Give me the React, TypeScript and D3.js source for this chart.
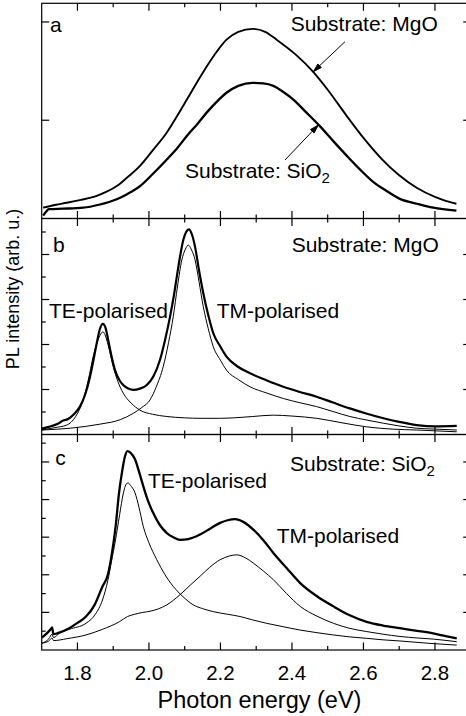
import React from 'react';
import * as d3 from 'd3';

const W = 466;
const H = 716;
const FONT = '"Liberation Sans", Arial, Helvetica, sans-serif';

// x axis
const xDomain: [number, number] = [1.7, 2.9];
const xMajorTicks = [1.8, 2.0, 2.2, 2.4, 2.6, 2.8];
const xMinorTicks = [1.9, 2.1, 2.3, 2.5, 2.7];
const xTickLabels = ['1.8', '2.0', '2.2', '2.4', '2.6', '2.8'];

// Panel a (PL, two substrates)
const aMgO: [number, number][] = [
  [1.704, 0.11], [1.74, 0.14], [1.77, 0.16], [1.81, 0.19], [1.854, 0.23], [1.88, 0.27], [1.91, 0.33],
  [1.94, 0.42], [1.975, 0.535], [2.01, 0.69], [2.05, 0.875], [2.08, 1.05], [2.106, 1.21], [2.135, 1.39],
  [2.162, 1.55], [2.19, 1.7], [2.217, 1.82], [2.25, 1.9], [2.29, 1.93], [2.325, 1.9], [2.357, 1.82],
  [2.41, 1.67], [2.46, 1.49], [2.5, 1.31], [2.55, 1.06], [2.6, 0.82], [2.65, 0.61], [2.7, 0.44],
  [2.75, 0.31], [2.8, 0.22], [2.83, 0.18], [2.86, 0.15],
];
const aSiO2: [number, number][] = [
  [1.704, 0.03], [1.715, 0.08], [1.72, 0.095], [1.76, 0.1], [1.816, 0.11], [1.86, 0.14], [1.91, 0.196],
  [1.94, 0.25], [1.975, 0.33], [2.01, 0.45], [2.05, 0.6], [2.08, 0.72], [2.106, 0.84], [2.135, 0.96],
  [2.162, 1.08], [2.19, 1.19], [2.217, 1.28], [2.25, 1.35], [2.29, 1.38], [2.32, 1.375], [2.348, 1.35],
  [2.375, 1.29], [2.404, 1.21], [2.44, 1.08], [2.478, 0.94], [2.515, 0.79], [2.553, 0.64], [2.59, 0.5],
  [2.628, 0.37], [2.665, 0.28], [2.702, 0.2], [2.75, 0.15], [2.795, 0.11], [2.86, 0.08],
];

// Panel b (MgO substrate)
const bTotal: [number, number][] = [
  [1.70, 0.13], [1.72, 0.17], [1.745, 0.24], [1.76, 0.31], [1.775, 0.35], [1.79, 0.45], [1.807, 0.62],
  [1.822, 0.9], [1.835, 1.28], [1.846, 1.7], [1.854, 2.03], [1.863, 2.35], [1.871, 2.46], [1.879, 2.36],
  [1.886, 2.1], [1.895, 1.75], [1.905, 1.43], [1.918, 1.2], [1.928, 1.1], [1.942, 1.02], [1.956, 0.99],
  [1.975, 1.02], [1.994, 1.1], [2.013, 1.3], [2.031, 1.66], [2.045, 2.1], [2.059, 2.62], [2.07, 3.1],
  [2.078, 3.51], [2.088, 4.0], [2.096, 4.32], [2.104, 4.5], [2.112, 4.56], [2.12, 4.45], [2.129, 4.17],
  [2.14, 3.65], [2.152, 3.14], [2.166, 2.65], [2.18, 2.25], [2.2, 1.95], [2.217, 1.73], [2.25, 1.5],
  [2.283, 1.36], [2.33, 1.2], [2.376, 1.06], [2.42, 0.95], [2.469, 0.84], [2.515, 0.71], [2.562, 0.58],
  [2.61, 0.46], [2.656, 0.36], [2.7, 0.28], [2.749, 0.21], [2.8, 0.18], [2.861, 0.19],
];
const bTE: [number, number][] = [
  [1.70, 0.1], [1.735, 0.15], [1.77, 0.21], [1.795, 0.4], [1.816, 0.77], [1.83, 1.2], [1.844, 1.73],
  [1.855, 2.05], [1.863, 2.2], [1.871, 2.28], [1.877, 2.22], [1.882, 2.1], [1.89, 1.85], [1.9, 1.51],
  [1.913, 1.18], [1.928, 0.92], [1.95, 0.7], [1.975, 0.54], [2.01, 0.45], [2.05, 0.4], [2.1, 0.37],
  [2.143, 0.36], [2.2, 0.36], [2.236, 0.37], [2.29, 0.4], [2.348, 0.43], [2.4, 0.41], [2.469, 0.36],
  [2.54, 0.26], [2.609, 0.17], [2.68, 0.12], [2.749, 0.1], [2.861, 0.06],
];
const bTM: [number, number][] = [
  [1.70, 0.1], [1.78, 0.14], [1.863, 0.23], [1.92, 0.33], [1.956, 0.47], [1.98, 0.6], [2.003, 0.77],
  [2.02, 1.05], [2.04, 1.51], [2.055, 2.05], [2.068, 2.62], [2.08, 3.3], [2.092, 3.88], [2.102, 4.12],
  [2.11, 4.21], [2.118, 4.12], [2.129, 3.88], [2.14, 3.4], [2.152, 2.84], [2.166, 2.35], [2.18, 1.95],
  [2.2, 1.65], [2.217, 1.43], [2.25, 1.22], [2.283, 1.06], [2.33, 0.92], [2.376, 0.8], [2.42, 0.71],
  [2.469, 0.62], [2.515, 0.51], [2.562, 0.4], [2.61, 0.32], [2.656, 0.25], [2.7, 0.19], [2.749, 0.14],
  [2.8, 0.12], [2.861, 0.1],
];

// Panel c (SiO2 substrate)
const cTotal: [number, number][] = [
  [1.70, 0.33], [1.715, 0.45], [1.725, 0.55], [1.729, 0.6], [1.733, 0.42], [1.745, 0.45], [1.777, 0.58],
  [1.8, 0.72], [1.824, 0.89], [1.848, 1.2], [1.87, 1.69], [1.885, 2.0], [1.897, 2.6], [1.907, 3.3],
  [1.916, 4.15], [1.925, 4.75], [1.933, 5.15], [1.94, 5.29], [1.948, 5.25], [1.961, 5.07], [1.972, 4.75],
  [1.984, 4.36], [1.998, 3.95], [2.012, 3.64], [2.03, 3.33], [2.05, 3.11], [2.068, 3.0], [2.087, 2.93],
  [2.11, 2.95], [2.143, 3.07], [2.17, 3.22], [2.199, 3.38], [2.22, 3.45], [2.241, 3.48], [2.265, 3.4],
  [2.292, 3.2], [2.32, 2.92], [2.348, 2.58], [2.385, 2.18], [2.423, 1.78], [2.47, 1.43], [2.516, 1.16],
  [2.56, 0.93], [2.609, 0.75], [2.655, 0.65], [2.702, 0.58], [2.75, 0.51], [2.795, 0.44], [2.83, 0.37],
  [2.861, 0.31],
];
const cTE: [number, number][] = [
  [1.70, 0.18], [1.72, 0.3], [1.729, 0.42], [1.733, 0.33], [1.75, 0.45], [1.777, 0.55], [1.824, 0.71],
  [1.85, 0.95], [1.87, 1.33], [1.885, 1.85], [1.895, 2.35], [1.906, 2.9], [1.918, 3.6], [1.928, 4.15],
  [1.937, 4.42], [1.942, 4.44], [1.948, 4.38], [1.961, 4.18], [1.972, 3.8], [1.984, 3.29], [2.0, 2.85],
  [2.022, 2.4], [2.045, 2.0], [2.068, 1.69], [2.095, 1.42], [2.124, 1.2], [2.15, 1.1], [2.18, 1.02],
  [2.22, 0.95], [2.255, 0.89], [2.29, 0.8], [2.329, 0.71], [2.375, 0.62], [2.423, 0.53], [2.47, 0.46],
  [2.516, 0.4], [2.56, 0.35], [2.609, 0.31], [2.655, 0.27], [2.702, 0.24], [2.78, 0.18], [2.861, 0.13],
];
const cTM: [number, number][] = [
  [1.70, 0.18], [1.72, 0.24], [1.729, 0.32], [1.733, 0.25], [1.77, 0.3], [1.824, 0.4], [1.87, 0.55],
  [1.917, 0.75], [1.94, 0.89], [1.96, 0.95], [1.983, 1.0], [2.003, 1.03], [2.05, 1.2], [2.087, 1.47],
  [2.115, 1.72], [2.143, 1.96], [2.17, 2.2], [2.199, 2.4], [2.225, 2.5], [2.245, 2.53], [2.27, 2.45],
  [2.292, 2.31], [2.32, 2.1], [2.348, 1.87], [2.385, 1.5], [2.423, 1.16], [2.47, 0.9], [2.516, 0.71],
  [2.56, 0.58], [2.609, 0.49], [2.655, 0.42], [2.702, 0.36], [2.75, 0.32], [2.795, 0.29], [2.861, 0.22],
];

// y ticks per panel
const aYMajor = [1, 2];
const aYMinor: number[] = [];
const bYMajor = [1, 2, 3, 4];
const bYMinor = [0.5, 1.5, 2.5, 3.5, 4.5];
const cYMajor = [1, 2, 3, 4, 5];
const cYMinor = [0.5, 1.5, 2.5, 3.5, 4.5, 5.5];

const LEFT = 41.7;
const RIGHT = 470.7;
const MAJ = 7.5;
const MIN = 4;

const x = d3.scaleLinear().domain(xDomain).range([LEFT, RIGHT]);

type Series = { data: [number, number][]; width: number };
type Panel = {
  id: string;
  top: number;
  bottom: number;
  yMax: number;
  yMajor: number[];
  yMinor: number[];
  series: Series[];
};

const panels: Panel[] = [
  { id: 'a', top: 3.3, bottom: 218.5, yMax: 2.19, yMajor: aYMajor, yMinor: aYMinor,
    series: [{ data: aMgO, width: 1.9 }, { data: aSiO2, width: 2.3 }] },
  { id: 'b', top: 218.5, bottom: 434.5, yMax: 4.8, yMajor: bYMajor, yMinor: bYMinor,
    series: [{ data: bTotal, width: 2.2 }, { data: bTE, width: 1 }, { data: bTM, width: 1 }] },
  { id: 'c', top: 434.5, bottom: 650, yMax: 5.73, yMajor: cYMajor, yMinor: cYMinor,
    series: [{ data: cTotal, width: 2.3 }, { data: cTE, width: 1 }, { data: cTM, width: 1 }] },
];

function Arrow({ x1, y1, x2, y2 }: { x1: number; y1: number; x2: number; y2: number }) {
  const ang = Math.atan2(y2 - y1, x2 - x1);
  const L = 9;
  const spread = 0.28;
  const p1 = [x2 - L * Math.cos(ang - spread), y2 - L * Math.sin(ang - spread)];
  const p2 = [x2 - L * Math.cos(ang + spread), y2 - L * Math.sin(ang + spread)];
  return (
    <g stroke="#000" strokeWidth={1}>
      <line x1={x1} y1={y1} x2={x2} y2={y2} />
      <path d={`M${p1[0]},${p1[1]}L${x2},${y2}L${p2[0]},${p2[1]}Z`} fill="#000" />
    </g>
  );
}

function PanelView({ p }: { p: Panel }) {
  const y = d3.scaleLinear().domain([0, p.yMax]).range([p.bottom, p.top]);
  const line = d3
    .line<[number, number]>()
    .x((d) => x(d[0]))
    .y((d) => y(d[1]))
    .curve(d3.curveMonotoneX);
  const clipId = `clip-${p.id}`;
  return (
    <g>
      <defs>
        <clipPath id={clipId}>
          <rect x={LEFT} y={p.top} width={RIGHT - LEFT} height={p.bottom - p.top} />
        </clipPath>
      </defs>
      <g clipPath={`url(#${clipId})`} fill="none" stroke="#000" strokeLinejoin="round">
        {p.series.map((s, i) => (
          <path key={i} d={line(s.data) || ''} strokeWidth={s.width} />
        ))}
      </g>
      <g stroke="#000" strokeWidth={1.2}>
        {xMajorTicks.map((t) => (
          <g key={'M' + t}>
            <line x1={x(t)} x2={x(t)} y1={p.top} y2={p.top + MAJ} />
            <line x1={x(t)} x2={x(t)} y1={p.bottom} y2={p.bottom - MAJ} />
          </g>
        ))}
        {xMinorTicks.map((t) => (
          <g key={'m' + t}>
            <line x1={x(t)} x2={x(t)} y1={p.top} y2={p.top + MIN} />
            <line x1={x(t)} x2={x(t)} y1={p.bottom} y2={p.bottom - MIN} />
          </g>
        ))}
        {p.yMajor.map((t) => (
          <g key={'yM' + t}>
            <line x1={LEFT} x2={LEFT + MAJ} y1={y(t)} y2={y(t)} />
            <line x1={RIGHT} x2={RIGHT - MAJ} y1={y(t)} y2={y(t)} />
          </g>
        ))}
        {p.yMinor.map((t) => (
          <g key={'ym' + t}>
            <line x1={LEFT} x2={LEFT + MIN} y1={y(t)} y2={y(t)} />
            <line x1={RIGHT} x2={RIGHT - MIN} y1={y(t)} y2={y(t)} />
          </g>
        ))}
        <rect x={LEFT} y={p.top} width={RIGHT - LEFT} height={p.bottom - p.top} fill="none" />
      </g>
    </g>
  );
}

export default function App() {
  const fs = 21;
  return (
    <svg
      width={W}
      height={H}
      viewBox={`0 0 ${W} ${H}`}
      style={{ position: 'absolute', left: 0, top: 0, background: '#fff' }}
      fontFamily={FONT}
    >
      <rect x={0} y={0} width={W} height={H} fill="#fff" />
      {panels.map((p) => (
        <PanelView key={p.id} p={p} />
      ))}

      {/* panel a annotations */}
      <text x={50} y={32} fontSize={fs}>a</text>
      <text x={290.7} y={31} fontSize={fs}>Substrate: MgO</text>
      <text x={185} y={178} fontSize={fs}>
        Substrate: SiO<tspan dy={5} fontSize={15}>2</tspan>
      </text>
      <Arrow x1={345} y1={41.7} x2={313.3} y2={71.7} />
      <Arrow x1={285} y1={160} x2={318.3} y2={125} />

      {/* panel b annotations */}
      <text x={53} y={252} fontSize={fs}>b</text>
      <text x={291.7} y={252} fontSize={fs}>Substrate: MgO</text>
      <text x={49} y={318} fontSize={fs}>TE-polarised</text>
      <text x={216.7} y={318} fontSize={fs}>TM-polarised</text>

      {/* panel c annotations */}
      <text x={55.3} y={464.5} fontSize={fs}>c</text>
      <text x={290} y={470.5} fontSize={fs}>
        Substrate: SiO<tspan dy={5} fontSize={15}>2</tspan>
      </text>
      <text x={148} y={488} fontSize={fs}>TE-polarised</text>
      <text x={276.7} y={542.7} fontSize={fs}>TM-polarised</text>

      {/* x tick labels */}
      {xMajorTicks.map((t, i) => (
        <text key={t} x={x(t)} y={680} fontSize={20.5} textAnchor="middle">
          {xTickLabels[i]}
        </text>
      ))}
      <text x={259.5} y={707.7} fontSize={23.5} textAnchor="middle">
        Photon energy (eV)
      </text>
      <text
        transform="translate(19,289) rotate(-90)"
        fontSize={18}
        textAnchor="middle"
      >
        PL intensity (arb. u.)
      </text>
    </svg>
  );
}
